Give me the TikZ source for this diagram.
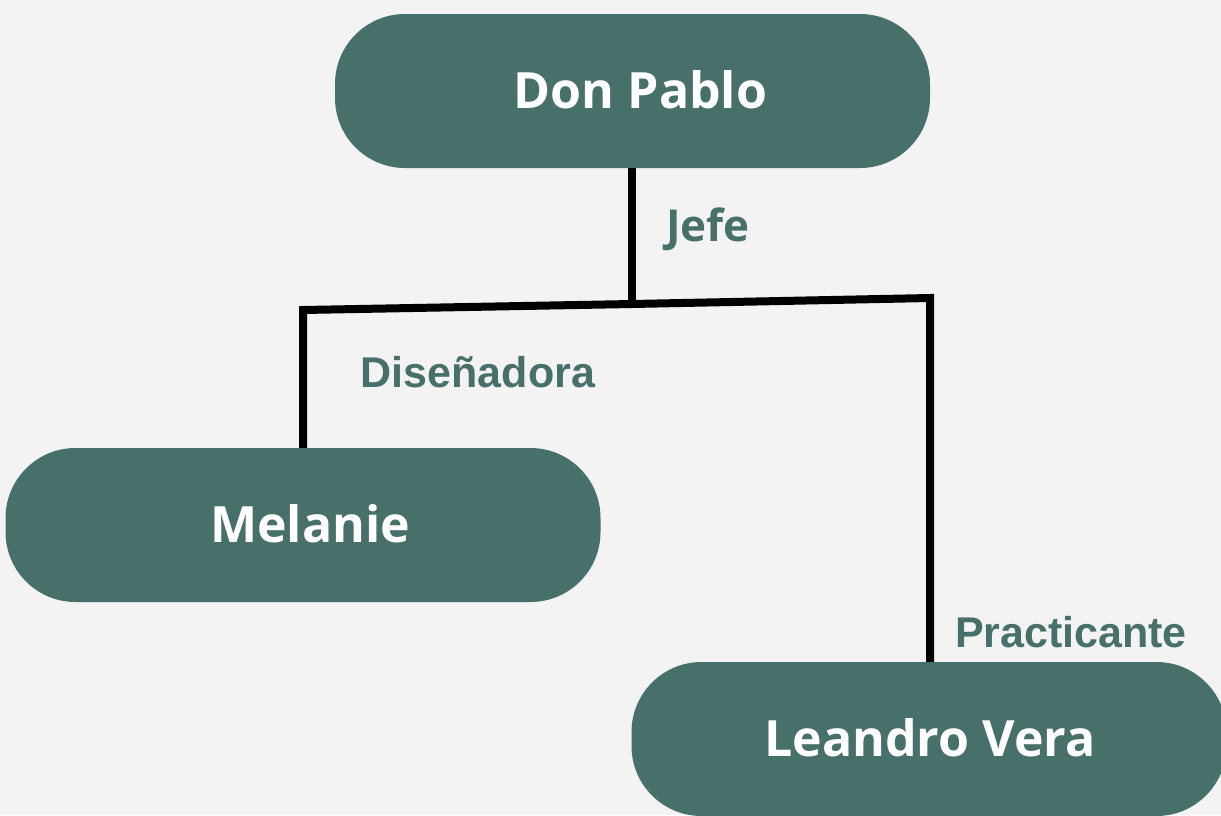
\documentclass[tikz,border=0pt]{standalone}
\usepackage{fontspec}
\setmainfont{Liberation Sans}
\newfontfamily\nodefont{Open Sans}
\definecolor{bg}{HTML}{F3F3F3}
\definecolor{boxgreen}{HTML}{47706A}
\newcommand{\nametext}[2]{\raisebox{4pt}{\hspace*{#1}#2}}
\begin{document}
\begin{tikzpicture}[x=1pt,y=-1pt,
  person/.style={fill=boxgreen, rounded corners=70pt, inner sep=0pt,
    minimum width=595pt, minimum height=154pt, text=white,
    font=\nodefont\bfseries\fontsize{50}{56}\selectfont},
  role/.style={text=boxgreen, inner sep=0pt, font=\bfseries\fontsize{43}{50}\selectfont},
  link/.style={line width=8pt, black}]
\path[fill=bg] (0,0) rectangle (1221,815);
\useasboundingbox (0,0) rectangle (1221,815);
\node[person] (dp) at (632.5,91) {\nametext{16pt}{Don Pablo}};
\node[person] (mel) at (303,525) {\nametext{14pt}{Melanie}};
\node[person] (lea) at (929,739) {\nametext{2pt}{Leandro Vera}};
\coordinate (j) at (632,304);
\coordinate (l) at (303,310);
\coordinate (r) at (930,298);
\draw[link] (dp.south -| j) -- (j);
\draw[link] (mel.north -| l) -- (l) -- (j) -- (r) -- (lea.north -| r);
\node[role, font=\nodefont\bfseries\fontsize{44}{50}\selectfont] (jefe) at (708,229) {Jefe};
\node[role] (dis) at (478,372) {Diseñadora};
\node[role] (pra) at (1071,632) {Practicante};
\end{tikzpicture}
\end{document}
